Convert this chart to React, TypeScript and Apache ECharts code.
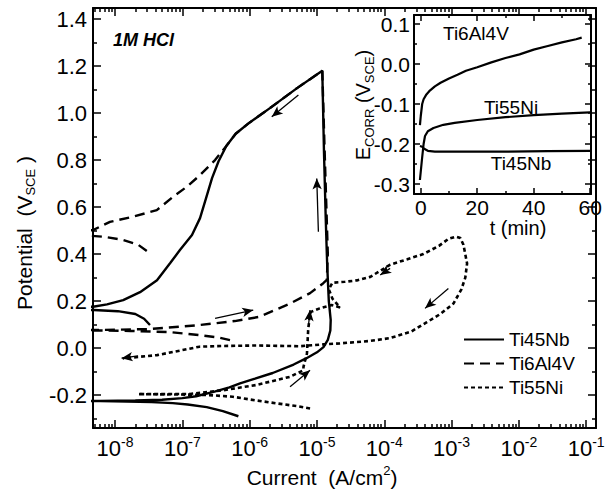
import React, { useEffect, useRef } from 'react';
import * as echarts from 'echarts';

const FONT = "'Liberation Sans', Arial, Helvetica, sans-serif";

// ---------- main chart axes ----------
const currentMin = 4.7e-9; // A/cm2
const currentMax = 0.14;
const potentialMin = -0.34; // V
const potentialMax = 1.447;
const xTickExponents = [-8, -7, -6, -5, -4, -3, -2, -1];
const yTickValues = [-0.2, 0.0, 0.2, 0.4, 0.6, 0.8, 1.0, 1.2, 1.4];
const yMinorTickValues = [-0.3, -0.1, 0.1, 0.3, 0.5, 0.7, 0.9, 1.1, 1.3];

// ---------- inset axes ----------
const tMin = -2.4;
const tMax = 60.3;
const eMin = -0.325;
const eMax = 0.1225;
const insetXTicks = [0, 20, 40, 60];
const insetXMinorTicks = [10, 30, 50];
const insetYTicks = [-0.3, -0.2, -0.1, 0.0, 0.1];
const insetYMinorTicks = [-0.25, -0.15, -0.05, 0.05];

// ---------- polarization curves: [current A/cm2, potential V] ----------
const ti45nbForward = [
  [6.8e-7, -0.29], [4e-7, -0.268], [2.3e-7, -0.251], [1.2e-7, -0.24], [7.2e-8, -0.234],
  [3.5e-8, -0.23], [1.5e-8, -0.227], [6e-9, -0.2255], [1e-9, -0.225], [6e-9, -0.2245],
  [2e-8, -0.223], [5e-8, -0.22], [1e-7, -0.213], [1.6e-7, -0.205], [3e-7, -0.185],
  [5e-7, -0.167], [7.2e-7, -0.15], [1.2e-6, -0.13], [2.2e-6, -0.106], [4.5e-6, -0.07],
  [7e-6, -0.043], [1.0e-5, -0.018], [1.25e-5, 0.004], [1.45e-5, 0.035], [1.58e-5, 0.075],
  [1.6e-5, 0.12], [1.5e-5, 0.2], [1.42e-5, 0.35], [1.35e-5, 0.55], [1.27e-5, 0.84],
  [1.2e-5, 1.18],
];
const ti45nbReverse = [
  [1.2e-5, 1.18], [5e-6, 1.105], [2e-6, 1.021], [9.5e-7, 0.955], [6.2e-7, 0.912],
  [4.5e-7, 0.86], [3.45e-7, 0.795], [2.76e-7, 0.723], [2.25e-7, 0.638], [1.83e-7, 0.553],
  [1.39e-7, 0.481], [9.2e-8, 0.417], [6.6e-8, 0.362], [4.2e-8, 0.289], [2.35e-8, 0.238],
  [1.32e-8, 0.204], [7.6e-9, 0.186], [4.7e-9, 0.176], [1e-9, 0.168], [4.8e-9, 0.162],
  [1.1e-8, 0.157], [2e-8, 0.145], [2.7e-8, 0.125], [3.3e-8, 0.098],
];
const ti6al4vForward = [
  [5.1e-7, 0.034], [3.5e-7, 0.045], [1.8e-7, 0.055], [6.6e-8, 0.068], [1.7e-8, 0.073],
  [6e-9, 0.075], [1e-9, 0.076], [6e-9, 0.077], [3.3e-8, 0.081], [1.8e-7, 0.098],
  [6e-7, 0.115], [1.4e-6, 0.133], [4e-6, 0.19], [7.9e-6, 0.234], [1.23e-5, 0.275],
  [1.4e-5, 0.29], [1.45e-5, 0.4], [1.38e-5, 0.6], [1.3e-5, 0.84], [1.2e-5, 1.18],
];
const ti6al4vReverse = [
  [1.2e-5, 1.18], [5e-6, 1.105], [2e-6, 1.021], [9.5e-7, 0.955], [6.2e-7, 0.912],
  [4.5e-7, 0.86], [3.06e-7, 0.8], [1.83e-7, 0.736], [1.16e-7, 0.686], [7.3e-8, 0.644],
  [4.17e-8, 0.587], [1.85e-8, 0.559], [8.4e-9, 0.537], [4.7e-9, 0.502], [1e-9, 0.49],
  [6.7e-9, 0.474], [1.32e-8, 0.46], [2.2e-8, 0.44], [3.3e-8, 0.403],
];
const ti55niScan = [
  [7.9e-6, -0.257], [5e-6, -0.247], [2.5e-6, -0.235], [1.2e-6, -0.222], [5.6e-7, -0.207],
  [2.5e-7, -0.2], [1.3e-7, -0.198], [5e-8, -0.197], [2.2e-8, -0.196], [5e-8, -0.196],
  [1.3e-7, -0.195], [4.1e-7, -0.179], [1.26e-6, -0.157], [4e-6, -0.122], [6.3e-6, -0.094],
  [6.3e-6, -0.08], [7.1e-6, -0.023], [7.4e-6, 0.077], [7.9e-6, 0.148], [8.3e-6, 0.155],
  [1.1e-5, 0.169], [1.65e-5, 0.183], [2.2e-5, 0.173], [1.7e-5, 0.21], [1.5e-5, 0.25],
  [1.7e-5, 0.278], [2.6e-5, 0.282], [3.9e-5, 0.288], [6.2e-5, 0.303], [1.23e-4, 0.355],
  [2.2e-4, 0.378], [3.8e-4, 0.4], [6.5e-4, 0.435], [9e-4, 0.465], [1.15e-3, 0.474],
  [1.35e-3, 0.468], [1.5e-3, 0.44], [1.7e-3, 0.36], [1.6e-3, 0.3], [1.4e-3, 0.25],
  [1.07e-3, 0.19], [6.8e-4, 0.145], [4.3e-4, 0.11], [2.5e-4, 0.07], [1.2e-4, 0.042],
  [6e-5, 0.03], [2.2e-5, 0.02], [1.26e-5, 0.016], [5.6e-6, 0.008], [1.26e-6, 0.011],
  [4e-7, 0.009], [1.8e-7, 0.006], [7.4e-8, -0.016], [4.2e-8, -0.03], [1.3e-8, -0.044],
];

// scan-direction arrows: [current1, V1, current2, V2] (head at point 2)
const scanArrows = [
  [5.3e-6, 1.077, 2.13e-6, 0.984],
  [1.05e-5, 0.495, 9.93e-6, 0.722],
  [3.06e-7, 0.126, 1.13e-6, 0.162],
  [7.45e-6, 0.091, 7.89e-6, 0.162],
  [3.98e-6, -0.165, 7.89e-6, -0.094],
  [2.2e-8, -0.033, 1.25e-8, -0.043],
  [1.22e-4, 0.339, 8.7e-5, 0.311],
  [8.97e-4, 0.254, 4.04e-4, 0.169],
];

// ---------- inset: open-circuit potential vs time [t min, E V] ----------
const ocpTi6al4v = [
  [-0.3, -0.153], [0, -0.13], [0.5, -0.1], [1, -0.088], [2, -0.076], [3, -0.068],
  [5, -0.056], [7, -0.047], [10, -0.036], [13, -0.027], [16, -0.017], [20, -0.008],
  [25, 0.004], [30, 0.015], [35, 0.024], [40, 0.036], [45, 0.045], [50, 0.054],
  [55, 0.062], [57, 0.066],
];
const ocpTi55ni = [
  [-0.3, -0.29], [0.4, -0.24], [1, -0.2], [1.5, -0.18], [2.5, -0.168], [4.5, -0.16],
  [8, -0.152], [12, -0.147], [20, -0.14], [30, -0.133], [40, -0.128], [50, -0.124],
  [60, -0.121],
];
const ocpTi45nb = [
  [-0.3, -0.205], [0.5, -0.207], [1.2, -0.212], [2.5, -0.217], [5, -0.219], [15, -0.219],
  [30, -0.219], [45, -0.218], [60, -0.217],
];

const seriesNames = ['Ti45Nb', 'Ti6Al4V', 'Ti55Ni'];

const toLog = (pts: number[][]) => pts.map(([i, v]) => [Math.log10(i), v]);

const xLogMin = Math.log10(currentMin);
const xLogMax = Math.log10(currentMax);
const xMinorTicks: number[] = [];
for (let e = -9; e <= -1; e++) {
  for (let k = 2; k <= 9; k++) {
    const v = e + Math.log10(k);
    if (v > xLogMin && v < xLogMax) xMinorTicks.push(v);
  }
}

const BLACK = '#000';

function axis(
  gridIndex: number,
  position: string,
  min: number,
  max: number,
  ticks: number[],
  len: number,
  showLine: boolean,
  label?: any,
) {
  return {
    type: 'value',
    gridIndex,
    position,
    min,
    max,
    axisLine: { show: showLine, onZero: false, lineStyle: { color: BLACK, width: 2 } },
    axisTick: {
      show: true,
      inside: true,
      length: len,
      customValues: ticks,
      lineStyle: { color: BLACK, width: 1.5 },
    },
    axisLabel: label ? { ...label, customValues: ticks } : { show: false },
    splitLine: { show: false },
  };
}

function buildOption() {
  const xLabel = {
    show: true,
    margin: 7,
    formatter: (v: number) => `{b|10}{s|${Math.round(v)}}`,
    rich: {
      b: { fontSize: 22, lineHeight: 26, fontFamily: FONT, color: BLACK },
      s: { fontSize: 14, lineHeight: 12, verticalAlign: 'top', fontFamily: FONT, color: BLACK },
    },
  };
  const yLabel = {
    show: true,
    margin: 6,
    fontSize: 22,
    fontFamily: FONT,
    color: BLACK,
    formatter: (v: number) => v.toFixed(1),
  };
  const insetXLabel = {
    show: true,
    margin: 3,
    fontSize: 21,
    lineHeight: 20,
    fontFamily: FONT,
    color: BLACK,
    formatter: (v: number) => String(Math.round(v)),
  };
  const insetYLabel = {
    show: true,
    margin: 4,
    fontSize: 21,
    fontFamily: FONT,
    color: BLACK,
    formatter: (v: number) => v.toFixed(1),
  };

  const xAxes = [
    axis(0, 'bottom', xLogMin, xLogMax, xTickExponents, 8, true, xLabel),
    axis(0, 'bottom', xLogMin, xLogMax, xMinorTicks, 4, false),
    axis(0, 'top', xLogMin, xLogMax, xTickExponents, 8, true),
    axis(0, 'top', xLogMin, xLogMax, xMinorTicks, 4, false),
    axis(1, 'bottom', tMin, tMax, insetXTicks, 6, true, insetXLabel),
    axis(1, 'bottom', tMin, tMax, insetXMinorTicks, 3, false),
    axis(1, 'top', tMin, tMax, insetXTicks, 6, true),
    axis(1, 'top', tMin, tMax, insetXMinorTicks, 3, false),
  ];
  const yAxes = [
    axis(0, 'left', potentialMin, potentialMax, yTickValues, 8, true, yLabel),
    axis(0, 'left', potentialMin, potentialMax, yMinorTickValues, 4, false),
    axis(0, 'right', potentialMin, potentialMax, yTickValues, 8, true),
    axis(0, 'right', potentialMin, potentialMax, yMinorTickValues, 4, false),
    axis(1, 'left', eMin, eMax, insetYTicks, 6, true, insetYLabel),
    axis(1, 'left', eMin, eMax, insetYMinorTicks, 3, false),
    axis(1, 'right', eMin, eMax, insetYTicks, 6, true),
    axis(1, 'right', eMin, eMax, insetYMinorTicks, 3, false),
  ];

  const lineBase = {
    type: 'line',
    symbol: 'none',
    showSymbol: false,
    clip: true,
    silent: true,
    itemStyle: { color: BLACK },
  };

  const series: any[] = [
    {
      ...lineBase,
      name: seriesNames[0],
      xAxisIndex: 0,
      yAxisIndex: 0,
      data: toLog([...ti45nbForward, ...ti45nbReverse]),
      lineStyle: { color: BLACK, width: 2.4, type: 'solid' },
      z: 4,
      markLine: {
        silent: true,
        animation: false,
        symbol: ['none', 'arrow'],
        symbolSize: [7, 11],
        label: { show: false },
        lineStyle: { color: BLACK, width: 1.3, type: 'solid' },
        data: scanArrows.map(([i1, v1, i2, v2]) => [
          { coord: [Math.log10(i1), v1] },
          { coord: [Math.log10(i2), v2] },
        ]),
      },
    },
    {
      ...lineBase,
      name: seriesNames[1],
      xAxisIndex: 0,
      yAxisIndex: 0,
      data: toLog([...ti6al4vForward, ...ti6al4vReverse]),
      lineStyle: { color: BLACK, width: 2.4, type: [10, 6] },
      z: 3,
    },
    {
      ...lineBase,
      name: seriesNames[2],
      xAxisIndex: 0,
      yAxisIndex: 0,
      data: toLog(ti55niScan),
      lineStyle: { color: BLACK, width: 2.6, type: [4, 3] },
      z: 3,
    },
    {
      ...lineBase,
      name: 'Ti6Al4V OCP',
      xAxisIndex: 4,
      yAxisIndex: 4,
      data: ocpTi6al4v,
      lineStyle: { color: BLACK, width: 2.2 },
    },
    {
      ...lineBase,
      name: 'Ti55Ni OCP',
      xAxisIndex: 4,
      yAxisIndex: 4,
      data: ocpTi55ni,
      lineStyle: { color: BLACK, width: 2.2 },
    },
    {
      ...lineBase,
      name: 'Ti45Nb OCP',
      xAxisIndex: 4,
      yAxisIndex: 4,
      data: ocpTi45nb,
      lineStyle: { color: BLACK, width: 2.2 },
    },
  ];

  const textStyleBase = { fill: BLACK, fontFamily: FONT };
  const subStyle = { fontSize: 13, fontFamily: FONT, fill: BLACK, lineHeight: 13, verticalAlign: 'bottom' };
  const baseRich = (size: number) => ({ fontSize: size, fontFamily: FONT, fill: BLACK, lineHeight: 26, verticalAlign: 'middle' });

  return {
    animation: false,
    backgroundColor: '#fff',
    textStyle: { fontFamily: FONT, color: BLACK },
    grid: [
      { left: 93, top: 8, width: 503, height: 420, show: false },
      { left: 414, top: 15, width: 177, height: 179, show: false },
    ],
    xAxis: xAxes,
    yAxis: yAxes,
    legend: {
      data: seriesNames,
      orient: 'vertical',
      left: 463,
      top: 330,
      itemWidth: 40,
      itemHeight: 14,
      itemGap: 5,
      padding: 0,
      selectedMode: false,
      itemStyle: { opacity: 0 },
      textStyle: { fontSize: 19, lineHeight: 19, fontFamily: FONT, color: BLACK },
    },
    graphic: [
      {
        type: 'text',
        x: 113,
        y: 40,
        style: {
          ...textStyleBase,
          text: '1M HCl',
          fontSize: 18,
          fontWeight: 'bold',
          fontStyle: 'italic',
          align: 'left',
          verticalAlign: 'middle',
          textAlign: 'left',
          textVerticalAlign: 'middle',
        },
      },
      {
        type: 'text',
        x: 24,
        y: 233,
        rotation: Math.PI / 2,
        style: {
          ...textStyleBase,
          text: '{m|Potential  (V}{sub|SCE}{m| )}',
          fontSize: 21,
          align: 'center',
          verticalAlign: 'middle',
          textAlign: 'center',
          textVerticalAlign: 'middle',
          rich: { m: baseRich(21), sub: subStyle },
        },
      },
      {
        type: 'text',
        x: 322,
        y: 477,
        style: {
          ...textStyleBase,
          text: '{m|Current  (A/cm}{sup|2}{m|)}',
          fontSize: 21,
          align: 'center',
          verticalAlign: 'middle',
          textAlign: 'center',
          textVerticalAlign: 'middle',
          rich: {
            m: baseRich(21),
            sup: { fontSize: 13, fontFamily: FONT, fill: BLACK, verticalAlign: 'top', lineHeight: 13 },
          },
        },
      },
      {
        type: 'text',
        x: 363,
        y: 105,
        rotation: Math.PI / 2,
        style: {
          ...textStyleBase,
          text: '{m|E}{sub|CORR}{m| (V}{sub|SCE}{m|)}',
          fontSize: 20,
          align: 'center',
          verticalAlign: 'middle',
          textAlign: 'center',
          textVerticalAlign: 'middle',
          rich: { m: baseRich(20), sub: subStyle },
        },
      },
      {
        type: 'text',
        x: 518,
        y: 228,
        style: {
          ...textStyleBase,
          text: 't (min)',
          fontSize: 20,
          lineHeight: 20,
          align: 'center',
          verticalAlign: 'middle',
          textAlign: 'center',
          textVerticalAlign: 'middle',
        },
      },
      {
        type: 'text',
        x: 443,
        y: 33,
        style: { ...textStyleBase, text: 'Ti6Al4V', fontSize: 19, align: 'left', verticalAlign: 'middle', textAlign: 'left', textVerticalAlign: 'middle' },
      },
      {
        type: 'text',
        x: 511,
        y: 107,
        style: { ...textStyleBase, text: 'Ti55Ni', fontSize: 19, align: 'center', verticalAlign: 'middle', textAlign: 'center', textVerticalAlign: 'middle' },
      },
      {
        type: 'text',
        x: 521,
        y: 163,
        style: { ...textStyleBase, text: 'Ti45Nb', fontSize: 19, align: 'center', verticalAlign: 'middle', textAlign: 'center', textVerticalAlign: 'middle' },
      },
    ],
    series,
  };
}

export default function App() {
  const ref = useRef<HTMLDivElement>(null);
  useEffect(() => {
    if (!ref.current) return;
    const chart = echarts.init(ref.current, null, { renderer: 'svg' });
    chart.setOption(buildOption() as any);
    return () => chart.dispose();
  }, []);
  return (
    <div
      ref={ref}
      style={{ position: 'fixed', left: 0, top: 0, width: 615, height: 490, background: '#fff' }}
    />
  );
}
